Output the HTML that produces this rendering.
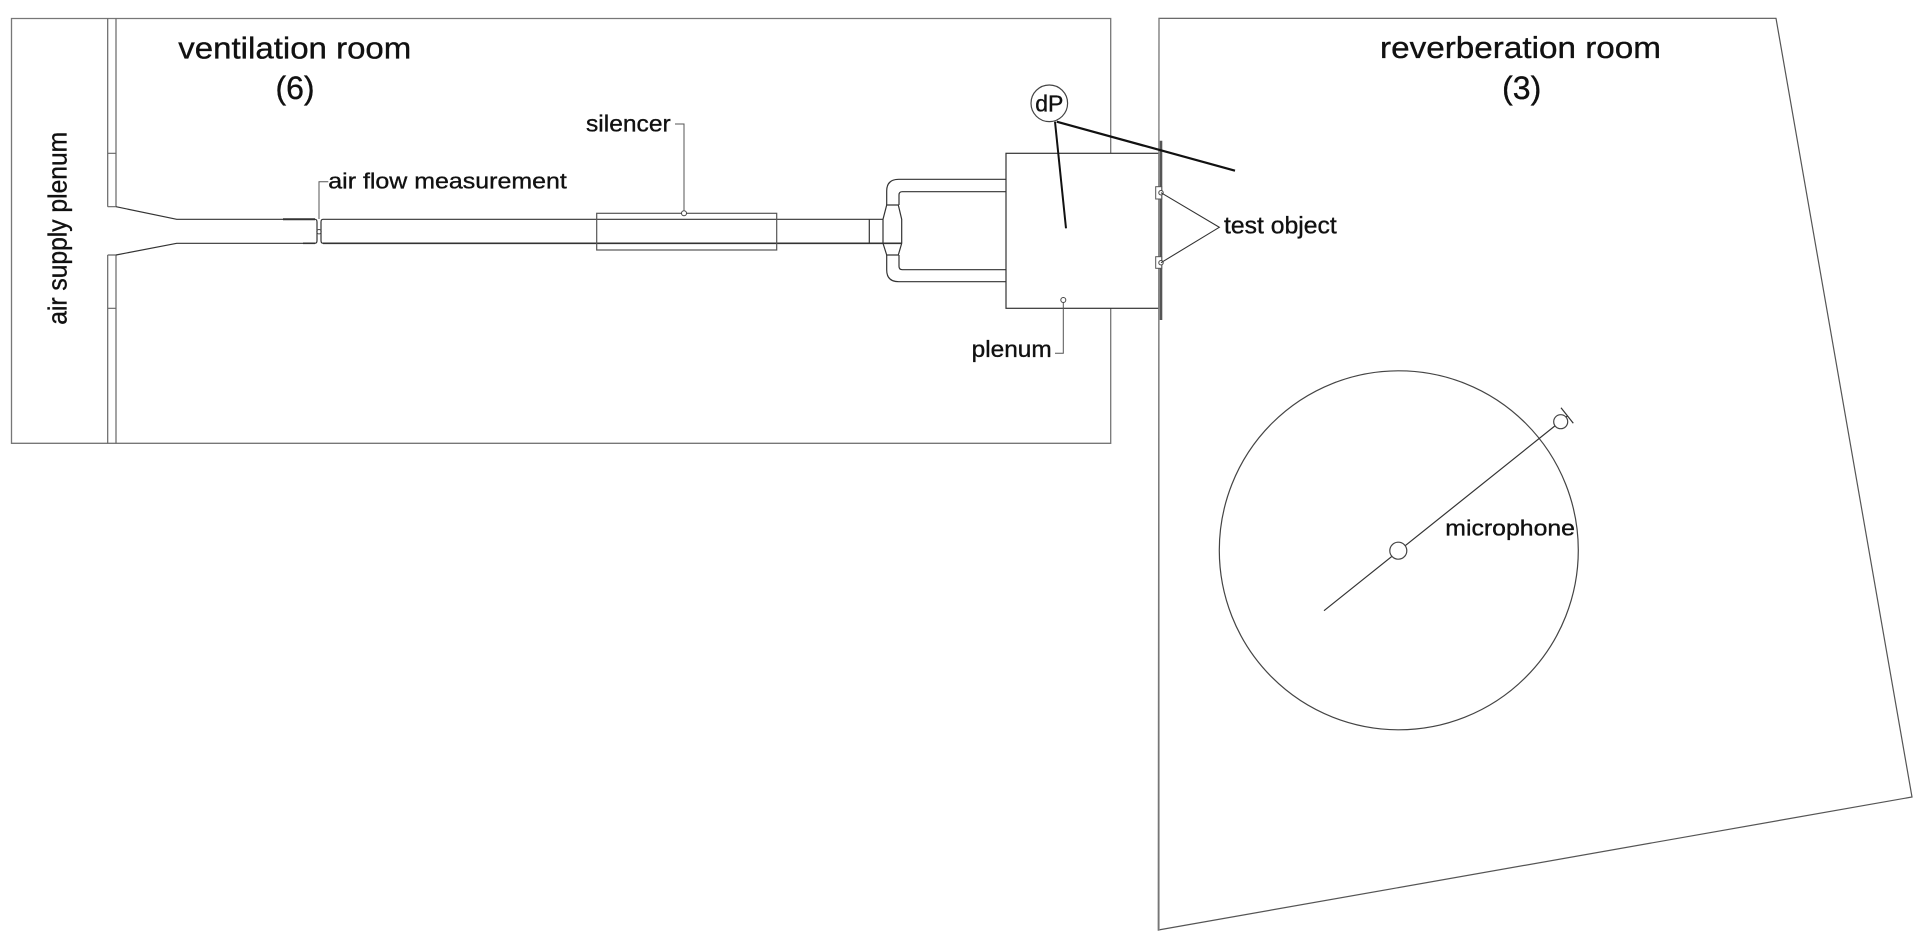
<!DOCTYPE html>
<html>
<head>
<meta charset="utf-8">
<style>
  html, body { margin: 0; padding: 0; background: #fff; }
  body { width: 1920px; height: 947px; overflow: hidden; }
  svg { display: block; }
  text { font-family: "Liberation Sans", Arial, sans-serif; fill: #111; stroke: #111; stroke-width: 0.35; }
</style>
</head>
<body>
<svg width="1920" height="947" viewBox="0 0 1920 947" xmlns="http://www.w3.org/2000/svg">
  <rect width="1920" height="947" fill="#fff"/>

  <!-- Ventilation room outline -->
  <path d="M1110.7,153.3 V18.5 H11.5 V443.3 H1110.7 V308.3" fill="none" stroke="#777" stroke-width="1.3"/>

  <!-- air supply plenum wall (double line) -->
  <g fill="none" stroke="#666" stroke-width="1.2">
    <path d="M107.7,18.5 V206.7 M116,18.5 V206.7"/>
    <path d="M107.7,255 V443.3 M116,255 V443.3"/>
    <path d="M107.7,153.3 H116 M107.7,308.3 H116 M107.7,206.7 H116 M107.7,255 H116"/>
  </g>

  <!-- duct -->
  <g fill="none" stroke="#333" stroke-width="1.2">
    <path d="M116,206.7 L176.7,219.3 H315"/>
    <path d="M116,255 L176.7,243.3 H315"/>
    <path d="M283,219.3 H315" stroke-width="2"/>
    <path d="M303,243.3 H315" stroke-width="1.6"/>
    <!-- air flow measurement pinch -->
    <path d="M315,219.3 Q317,219.3 317,222 V240.5 Q317,243.3 315,243.3"/>
    <path d="M323,219.3 Q321,219.3 321,222 V240.5 Q321,243.3 323,243.3"/>
    <path d="M323,219.3 H883"/>
    <path d="M323,243.3 H901.7" stroke-width="1.6"/>
    <!-- silencer -->
    <rect x="596.7" y="213.3" width="180" height="36.7" stroke="#555"/>
    <!-- end section -->
    <path d="M869.3,219.3 V243.3"/>
    <!-- flange -->
    <path d="M883,219.3 L886.7,205 H898.3 L901.7,219.3 V243.3 L898.3,255 H886.7 L883,243.3 Z"/>
    <!-- outer pipes -->
    <path d="M886.7,205 V191 Q886.7,179.3 898.7,179.3 H1006"/>
    <path d="M886.7,255 V270 Q886.7,281.7 898.7,281.7 H1006"/>
    <!-- inner pipes -->
    <path d="M899,205 V195 Q899,191.7 902.3,191.7 H1006"/>
    <path d="M899,255 V266.3 Q899,269.7 902.3,269.7 H1006"/>
    <!-- plenum box -->
    <rect x="1006" y="153.3" width="153" height="155"/>
  </g>
  <circle cx="319" cy="231.7" r="2.2" fill="none" stroke="#444" stroke-width="1"/>
  <circle cx="684" cy="213.3" r="2.5" fill="#fff" stroke="#444" stroke-width="1"/>
  <circle cx="1063.3" cy="300" r="2.5" fill="none" stroke="#444" stroke-width="1"/>

  <!-- reverberation room outline -->
  <polygon points="1159,18.3 1776,18.3 1912,797 1158.3,930" fill="none" stroke="#555" stroke-width="1.2"/>
  <path d="M1159,18.3 V930" stroke="#888" stroke-width="1.3"/>

  <!-- test object plate -->
  <path d="M1161,140.7 V320" stroke="#555" stroke-width="2.6"/>
  <rect x="1155.7" y="186.7" width="6" height="12.3" fill="#fff" stroke="#555" stroke-width="1"/>
  <rect x="1155.7" y="256.7" width="6" height="11.6" fill="#fff" stroke="#555" stroke-width="1"/>
  <circle cx="1161" cy="192.7" r="2.2" fill="#fff" stroke="#444" stroke-width="1"/>
  <circle cx="1161" cy="262.7" r="2.2" fill="#fff" stroke="#444" stroke-width="1"/>
  <path d="M1161,192.7 L1219.3,227.3 L1161,262.7" fill="none" stroke="#333" stroke-width="1.1"/>

  <!-- dP -->
  <circle cx="1049.3" cy="103.3" r="18.3" fill="#fff" stroke="#444" stroke-width="1.2"/>
  <path d="M1055,121.7 L1066,228.3" stroke="#111" stroke-width="2"/>
  <path d="M1056.7,121.7 L1235,170.7" stroke="#111" stroke-width="2.2"/>

  <!-- leaders -->
  <g fill="none" stroke="#555" stroke-width="1">
    <path d="M328.3,181.7 H319 V219"/>
    <path d="M675,124 H684 V211"/>
    <path d="M1063.3,302.5 V353.3 H1055"/>
  </g>

  <!-- microphone circle -->
  <circle cx="1398.8" cy="550.3" r="179.5" fill="none" stroke="#444" stroke-width="1.2"/>
  <path d="M1324,610.7 L1567.3,416" stroke="#333" stroke-width="1.2"/>
  <circle cx="1398.3" cy="550.7" r="8.5" fill="#fff" stroke="#444" stroke-width="1.2"/>
  <circle cx="1560.7" cy="421.7" r="7" fill="#fff" stroke="#444" stroke-width="1.2"/>
  <path d="M1561,407.7 L1573.3,423.3" stroke="#333" stroke-width="1.2"/>

  <!-- labels -->
  <text x="178.3" y="58.3" font-size="31" textLength="233" lengthAdjust="spacingAndGlyphs">ventilation room</text>
  <text x="295" y="98.8" font-size="32" text-anchor="middle">(6)</text>
  <text x="1380" y="58" font-size="31" textLength="281" lengthAdjust="spacingAndGlyphs">reverberation room</text>
  <text x="1521.7" y="98.8" font-size="32" text-anchor="middle">(3)</text>
  <text transform="translate(66.7,228.3) rotate(-90)" x="0" y="0" font-size="25.5" text-anchor="middle" textLength="193" lengthAdjust="spacingAndGlyphs">air supply plenum</text>
  <text x="328.3" y="188.3" font-size="22.5" textLength="238.5" lengthAdjust="spacingAndGlyphs">air flow measurement</text>
  <text x="586" y="131.7" font-size="23" textLength="84.7" lengthAdjust="spacingAndGlyphs">silencer</text>
  <text x="1049.3" y="111.7" font-size="23" text-anchor="middle">dP</text>
  <text x="1224" y="233.3" font-size="24" textLength="112.7" lengthAdjust="spacingAndGlyphs">test object</text>
  <text x="971.7" y="357" font-size="23" textLength="80" lengthAdjust="spacingAndGlyphs">plenum</text>
  <text x="1445.3" y="535.7" font-size="22.5" textLength="129.7" lengthAdjust="spacingAndGlyphs">microphone</text>
</svg>
</body>
</html>
